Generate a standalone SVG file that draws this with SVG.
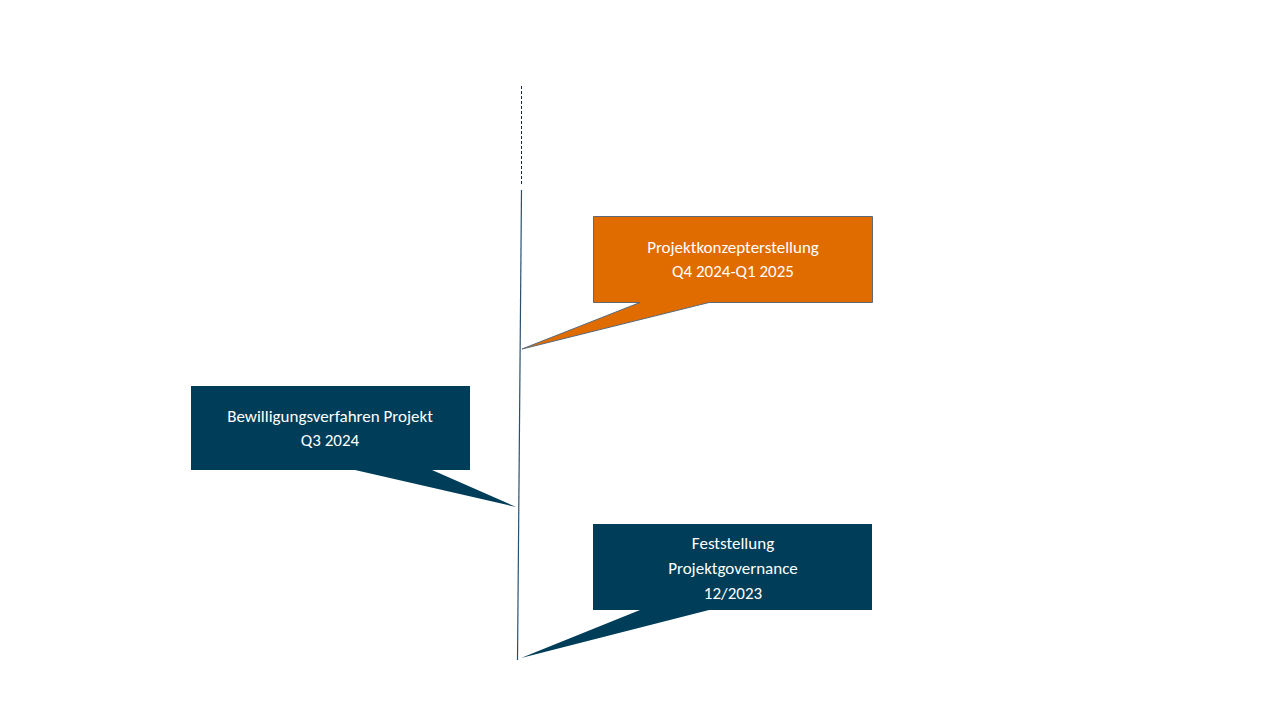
<svg xmlns="http://www.w3.org/2000/svg" width="1280" height="720" viewBox="0 0 1280 720">
<style>
.t{font-family:Calibri,Carlito,"Open Sans","Liberation Sans",sans-serif;font-size:17px;fill:#ffffff;text-anchor:middle}
.blue{fill:#003d58}
.orange{fill:#e06c00;stroke:#5a6a7a;stroke-width:1}
</style>
<rect width="1280" height="720" fill="#ffffff"/>
<g id="connectors">
<line x1="521.5" y1="86" x2="521.5" y2="186" stroke="#1a2a3a" stroke-width="1" stroke-dasharray="3,2"/>
<line x1="521.5" y1="190" x2="517.5" y2="660" stroke="#2a5070" stroke-width="1.2"/>
</g>
<g id="node-konzept">
<path class="orange" d="M593.5,216.5 H872.5 V302.5 H709 L522,349 L640,302.5 H593.5 Z"/>
<text class="t" x="733" y="253">Projektkonzepterstellung</text>
<text class="t" x="733" y="277">Q4 2024-Q1 2025</text>
</g>
<g id="node-bewilligung">
<path class="blue" d="M191,386 H470 V470 H432 L516,507 L355,470 H191 Z"/>
<text class="t" x="330" y="422">Bewilligungsverfahren  Projekt</text>
<text class="t" x="330" y="446">Q3 2024</text>
</g>
<g id="node-governance">
<path class="blue" d="M593,524 H872 V610 H709 L521,658 L640,610 H593 Z"/>
<text class="t" x="733" y="549">Feststellung</text>
<text class="t" x="733" y="574">Projektgovernance</text>
<text class="t" x="733" y="599">12/2023</text>
</g>
</svg>
